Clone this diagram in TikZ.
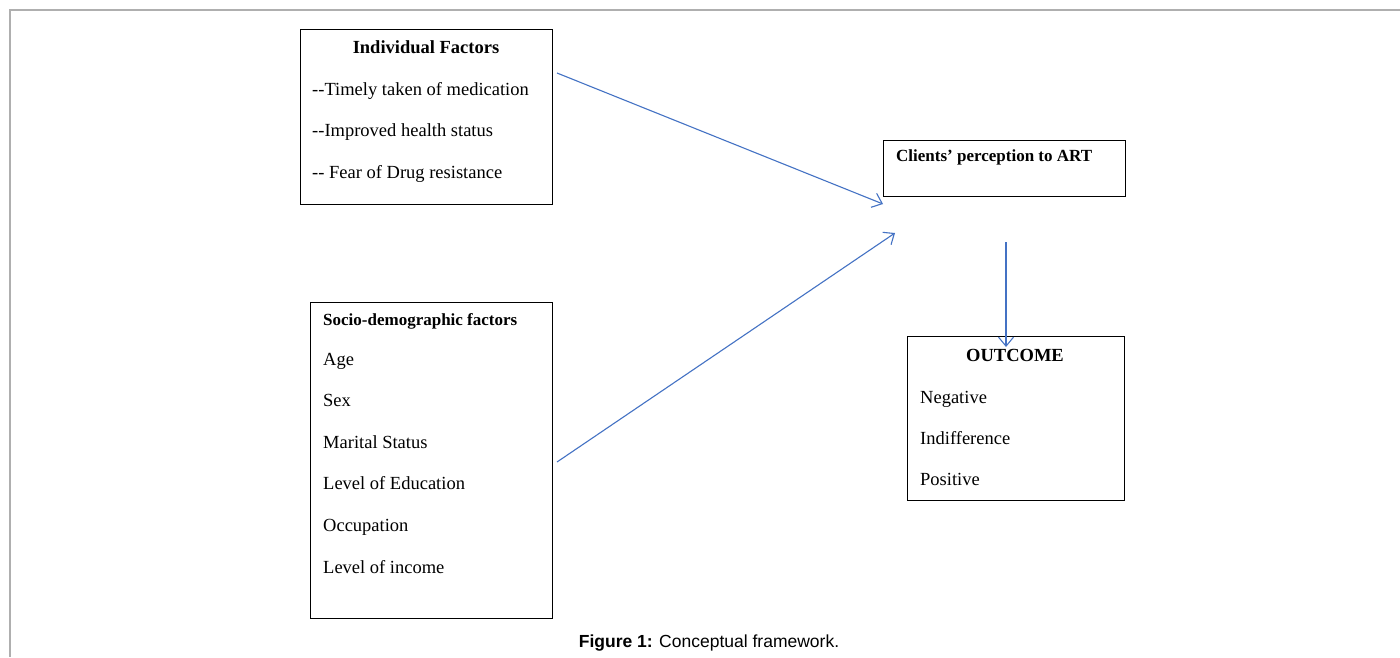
\documentclass[tikz,border=0pt]{standalone}
\usepackage{fontspec}
\setmainfont{Liberation Serif}[Ligatures=TeXOff]
\newfontfamily\capfont{Liberation Sans}
\usetikzlibrary{arrows.meta}
\definecolor{arrowblue}{RGB}{68,114,196}
\definecolor{framegray}{RGB}{175,175,175}
\begin{document}
\begin{tikzpicture}[x=1pt,y=-1pt,
  box/.style={draw=black, line width=1.3pt, inner sep=0pt, anchor=north west},
  txt/.style={anchor=west, inner sep=0pt, text height=13pt, text depth=0pt, font=\fontsize{18.5}{22}\selectfont},
  btxt/.style={txt, anchor=center, font=\fontsize{18.5}{22}\selectfont\bfseries},
  stxt/.style={txt, font=\fontsize{17}{20}\selectfont\bfseries},
  link/.style={draw=arrowblue, line width=1.1pt, -{Straight Barb[length=9pt,width=15pt]}}
]
\useasboundingbox (0,0) rectangle (1400,657);
\fill[white] (0,0) rectangle (1400,657);
\draw[framegray, line width=1.5pt] (1400,10) -- (10,10) -- (10,657);

% Individual factors
\node[box, minimum width=252pt, minimum height=175pt] (ind) at (300,29) {};
\node[btxt] (indt) at (426,47) {Individual Factors};
\node[txt] (ind1) at (312,89) {--Timely taken of medication};
\node[txt] (ind2) at (312,130) {--Improved health status};
\node[txt] (ind3) at (312,172) {-- Fear of Drug resistance};

% Socio-demographic factors
\node[box, minimum width=242pt, minimum height=316pt] (soc) at (310,302) {};
\node[stxt] (soct) at (323,319) {Socio-demographic factors};
\node[txt] (soc1) at (323,359) {Age};
\node[txt] (soc2) at (323,400) {Sex};
\node[txt] (soc3) at (323,442) {Marital Status};
\node[txt] (soc4) at (323,483) {Level of Education};
\node[txt] (soc5) at (323,525) {Occupation};
\node[txt] (soc6) at (323,567) {Level of income};

% Clients' perception
\node[box, minimum width=242pt, minimum height=56pt] (cli) at (883,140) {};
\node[stxt] (clit) at (896,155) {Clients’ perception to ART};

% Outcome
\node[box, minimum width=217pt, minimum height=164pt] (out) at (907,336) {};
\node[btxt] (outt) at (1015,355) {OUTCOME};
\node[txt] (out1) at (920,397) {Negative};
\node[txt] (out2) at (920,438) {Indifference};
\node[txt] (out3) at (920,479) {Positive};

% connectors
\coordinate (a1s) at (557,73);
\coordinate (a1e) at (883,204);
\coordinate (a2s) at (557,462);
\coordinate (a2e) at (895,233);
\coordinate (a3s) at (1006,242);
\coordinate (a3e) at (1006,347);
\draw[link] (a1s) -- (a1e);
\draw[link] (a2s) -- (a2e);
\draw[link] (a3s) -- (a3e);

% caption
\node[anchor=center, inner sep=0pt, font=\capfont\fontsize{17.5}{21}\selectfont] (cap) at (709,643) {\textbf{Figure 1:} Conceptual framework.};
\end{tikzpicture}
\end{document}
